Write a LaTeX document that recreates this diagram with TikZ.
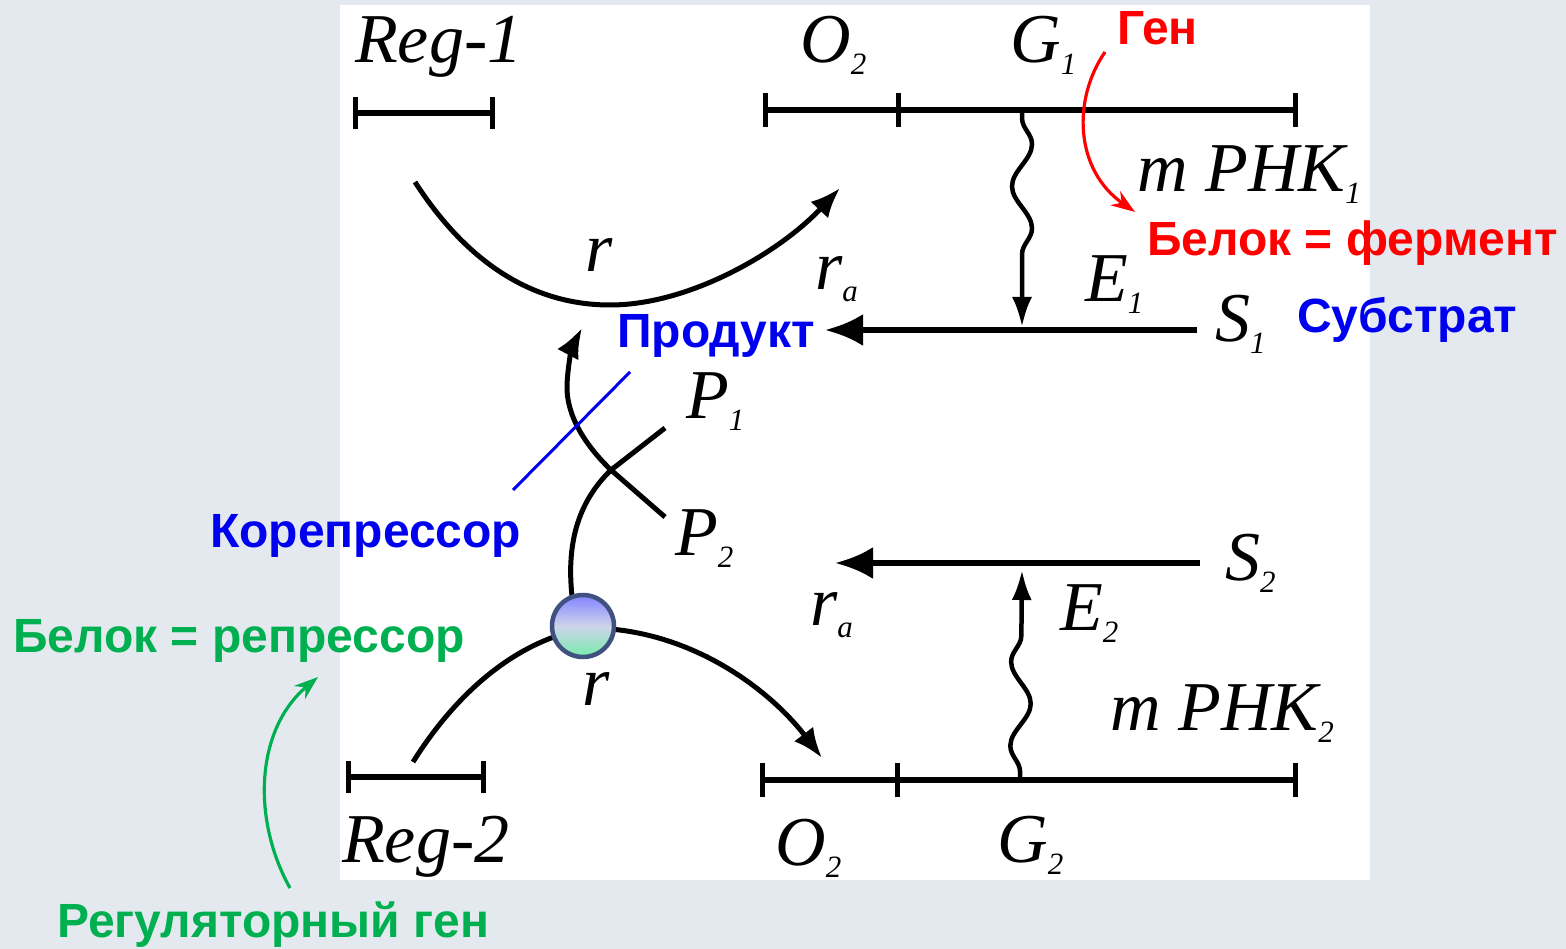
\documentclass[tikz,border=0pt]{standalone}
\usepackage{fontspec}
\setmainfont{Liberation Serif}
\newfontfamily\labfont{Liberation Sans}
\usetikzlibrary{arrows.meta,decorations.pathmorphing}
\definecolor{bgc}{RGB}{228,233,240}
\definecolor{myred}{RGB}{255,0,0}
\definecolor{myblue}{RGB}{0,0,240}
\definecolor{mygreen}{RGB}{0,176,80}
\definecolor{ctop}{RGB}{130,130,255}
\definecolor{cmid}{RGB}{205,212,235}
\definecolor{cbot}{RGB}{120,236,170}
\definecolor{cedge}{RGB}{64,80,128}
\newcommand{\lsb}[1]{\raisebox{-12pt}{\fontsize{31}{31}\selectfont #1}}
\tikzset{
  it/.style={anchor=base west,inner sep=0pt,font=\fontsize{70}{70}\selectfont\itshape},
  ann/.style={anchor=base west,inner sep=0pt,font=\labfont\bfseries\fontsize{48}{48}\selectfont},
  gene/.style={line width=6pt},
  tick/.style={line width=5pt},
  arc/.style={line width=5pt,-{Latex[length=30pt,width=24pt]}},
  harrow/.style={line width=6pt,-{Latex[length=38pt,width=32pt]}},
  wave/.style={line width=4.5pt,-{Latex[length=30pt,width=20pt]},decorate,
    decoration={snake,amplitude=10pt,segment length=84pt,pre length=8pt,post length=45pt}},
  thin/.style={line width=3.2pt,-{Stealth[length=24pt,width=17pt]}}
}
\begin{document}
\begin{tikzpicture}[x=1pt,y=-1pt]
\useasboundingbox (0,0) rectangle (1566,949);
\fill[bgc] (0,0) rectangle (1566,949);
\fill[white] (340,5) rectangle (1370,880);

% labels
\node[it] (reg1) at (355,63) {Reg-1};
\node[it] (o2a) at (800,63) {O\lsb{2}};
\node[it] (g1) at (1010,63) {G\lsb{1}};
\node[it] (mrna1) at (1137,192) {m PHK\lsb{1}};
\node[it] (r1) at (585,272) {r};
\node[it] (ra1) at (815,290) {r\lsb{a}};
\node[it] (e1) at (1085,302) {E\lsb{1}};
\node[it] (s1) at (1215,342) {S\lsb{1}};
\node[it] (p1) at (686,418) {P\lsb{1}};
\node[it] (p2) at (675,555) {P\lsb{2}};
\node[it] (s2) at (1225,580) {S\lsb{2}};
\node[it] (ra2) at (810,625) {r\lsb{a}};
\node[it] (e2) at (1060,630) {E\lsb{2}};
\node[it] (r2) at (582,705) {r};
\node[it] (mrna2) at (1110,730) {m PHK\lsb{2}};
\node[it] (reg2) at (342,862) {Reg-2};
\node[it] (o2b) at (775,865) {O\lsb{2}};
\node[it] (g2) at (997,862) {G\lsb{2}};

% genes
\coordinate (ra) at (355,113); \coordinate (rb) at (492,113);
\draw[gene] (ra) -- (rb);
\draw[tick] (355,97) -- (355,129); \draw[tick] (492,97) -- (492,129);
\coordinate (ga) at (765,110); \coordinate (gb) at (1295,110);
\draw[gene] (ga) -- (gb);
\draw[tick] (765,93) -- (765,127); \draw[tick] (898,93) -- (898,127); \draw[tick] (1295,93) -- (1295,127);
\coordinate (rc) at (348,777); \coordinate (rd) at (483,777);
\draw[gene] (rc) -- (rd);
\draw[tick] (348,761) -- (348,793); \draw[tick] (483,761) -- (483,793);
\coordinate (gc) at (762,780); \coordinate (gd) at (1295,780);
\draw[gene] (gc) -- (gd);
\draw[tick] (762,763) -- (762,797); \draw[tick] (897,763) -- (897,797); \draw[tick] (1295,763) -- (1295,797);

% substrate arrows
\coordinate (s1s) at (1197,330); \coordinate (s1e) at (825,330);
\draw[harrow] (s1s) -- (s1e);
\coordinate (s2s) at (1200,563); \coordinate (s2e) at (835,563);
\draw[harrow] (s2s) -- (s2e);

% waves
\coordinate (w1a) at (1022,110); \coordinate (w1b) at (1022,327);
\draw[wave] (w1a) -- (w1b);
\coordinate (w2a) at (1020,780); \coordinate (w2b) at (1022,570);
\draw[wave] (w2a) -- (w2b);

% top arc
\draw[arc] (415,182) .. controls (475,275) and (545,305) .. (610,305)
  .. controls (690,305) and (780,252) .. (840,188);
% bottom arc
\draw[arc] (413,762) .. controls (455,695) and (515,640) .. (588,628)
  .. controls (690,628) and (770,690) .. (822,758);

% corepressor curves
\draw[arc] (665,517) -- (611,470) .. controls (585,445) and (566,415) .. (567,385)
  .. controls (568,362) and (573,345) .. (582,328);
\draw[line width=5pt] (572,596) .. controls (566,540) and (580,500) .. (611,470) -- (665,428);

% repressor ball
\node[circle,minimum size=62pt,inner sep=0pt,draw=cedge,line width=4.5pt,
  top color=ctop,bottom color=cbot,middle color=cmid] (ball) at (583,626) {};

% annotations
\node[ann,text=myred] (gen) at (1117,45) {Ген};
\node[ann,text=myred] (ferm) at (1147,256) {Белок = фермент};
\node[ann,text=myblue] (subs) at (1297,333) {Субстрат};
\node[ann,text=myblue] (prod) at (617,348) {Продукт};
\node[ann,text=myblue] (corep) at (210,547) {Корепрессор};
\node[ann,text=mygreen] (repr) at (13,652) {Белок = репрессор};
\node[ann,text=mygreen] (regg) at (57,937) {Регуляторный ген};

\coordinate (bl1) at (630,372); \coordinate (bl2) at (513,490);
\draw[myblue,line width=3pt] (bl1) -- (bl2);
\coordinate (rda) at (1105,52); \coordinate (rdb) at (1135,212);
\draw[thin,myred] (rda) .. controls (1072,100) and (1075,170) .. (rdb);
\coordinate (gra) at (290,888); \coordinate (grb) at (318,677);
\draw[thin,mygreen] (gra) .. controls (252,820) and (255,730) .. (grb);
\end{tikzpicture}
\end{document}
